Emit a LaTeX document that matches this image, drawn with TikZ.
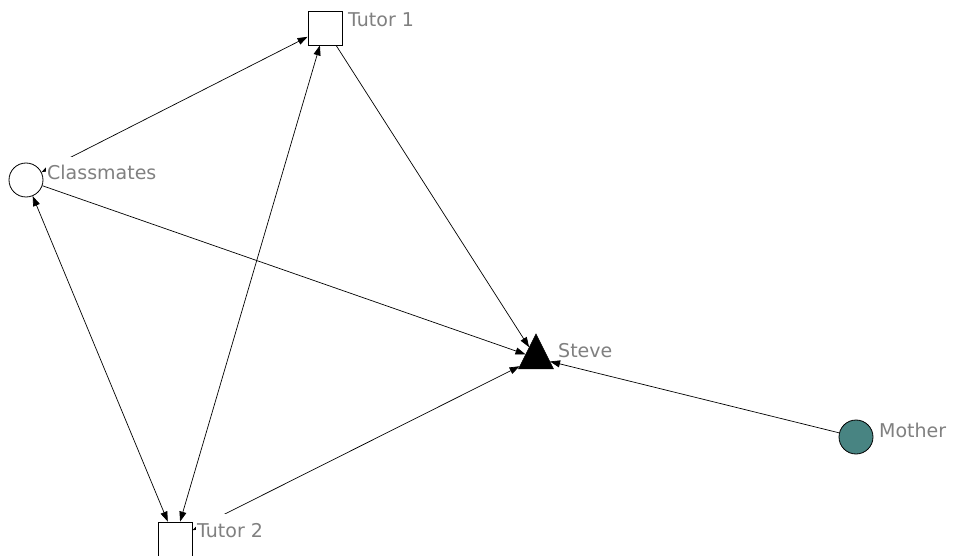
\documentclass[tikz,border=0pt]{standalone}
\usepackage{fontspec}
\setmainfont{DejaVu Sans}
\usetikzlibrary{arrows.meta,shapes.geometric}
\definecolor{mothergreen}{RGB}{72,132,130}
\definecolor{labelgray}{RGB}{128,128,128}
\begin{document}
\begin{tikzpicture}[x=1pt, y=-1pt,
    actor/.style={draw=black, line width=0.8pt, fill=white, inner sep=0pt},
    squareactor/.style={actor, rectangle, minimum size=34pt},
    circleactor/.style={actor, circle, minimum size=34pt},
    tag/.style={anchor=base west, text=labelgray, fill=white, inner sep=1pt,
        text height=22pt, font=\fontsize{19}{22}\selectfont},
    tie/.style={line width=0.7pt, -{Triangle[length=10pt,width=7pt]}},
    mutual/.style={line width=0.7pt,
        {Triangle[length=10pt,width=7pt]}-{Triangle[length=10pt,width=7pt]}}
]
    % --- canvas ---
    \useasboundingbox (0,0) rectangle (956,556);

    % --- actors ---
    \node[squareactor] (tutor1) at (325,28) {};
    \node[circleactor] (classmates) at (26,180) {};
    \node[squareactor] (tutor2) at (175,539) {};
    \node[draw, fill=black, isosceles triangle, isosceles triangle stretches,
        shape border rotate=90, minimum width=35pt, minimum height=35pt,
        inner sep=0pt] (steve) at (536,358) {};
    \node[circleactor, fill=mothergreen] (mother) at (856,437) {};

    % --- ties ---
    \draw[mutual] (classmates) -- (tutor1);
    \draw[mutual] (classmates) -- (tutor2);
    \draw[mutual] (tutor2) -- (tutor1);
    \draw[mutual] (tutor2) -- (steve);
    \draw[tie] (tutor1) -- (steve);
    \draw[tie] (classmates) -- (steve);
    \draw[tie] (mother) -- (steve);

    % --- labels (drawn last, they hide the ties below them) ---
    \node[tag] (tutor1label) at (347,27) {Tutor 1};
    \node[tag] (classmateslabel) at (46,180) {Classmates};
    \node[tag] (tutor2label) at (196,537) {Tutor 2};
    \node[tag] (stevelabel) at (557,357) {Steve};
    \node[tag] (motherlabel) at (878,437) {Mother};

\end{tikzpicture}
\end{document}
